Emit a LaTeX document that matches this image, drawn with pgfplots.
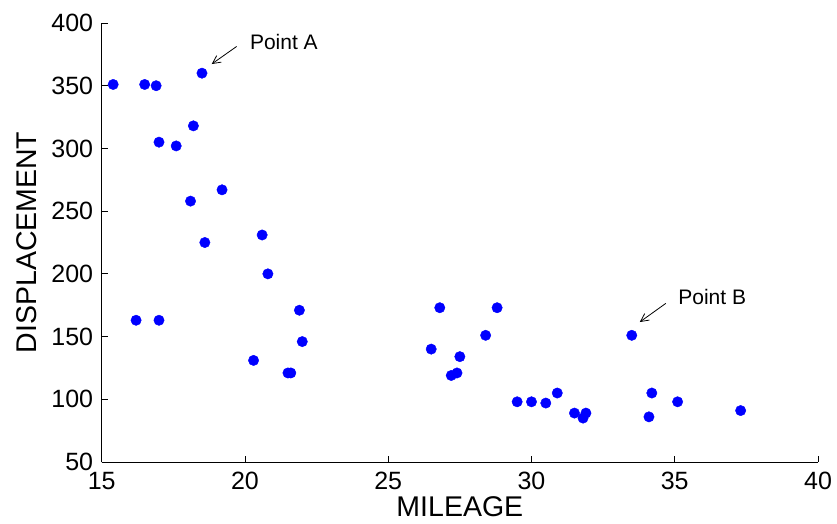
\documentclass[border=0pt]{standalone}
\usepackage{fontspec}
\setmainfont{Liberation Sans}
\usepackage{pgfplots}
\pgfplotsset{compat=1.18}
\usetikzlibrary{arrows.meta}
\begin{document}
\begin{tikzpicture}
\useasboundingbox (-101.7pt,-61pt) rectangle (735.3pt,462pt);
\begin{axis}[
  at={(0,0)}, anchor=south west,
  scale only axis, width=716.3pt, height=439pt,
  xmin=15, xmax=40, ymin=50, ymax=400,
  xtick={15,20,...,40}, ytick={50,100,...,400},
  axis x line*=bottom, axis y line*=left,
  tick align=inside, major tick length=6.5pt,
  axis line style={line width=0.9pt},
  tick style={line width=0.9pt, black},
  /pgf/number format/assume math mode=true,
  ticklabel style={font=\fontsize{25}{28}\selectfont, inner sep=0pt},
  xticklabel style={anchor=north, yshift=-10.3pt},
  yticklabel style={anchor=east, xshift=-8.4pt},
  xlabel={MILEAGE}, ylabel={DISPLACEMENT},
  label style={font=\fontsize{28.5}{32}\selectfont, inner sep=0pt},
  xlabel style={at={(axis description cs:0.5,-0.1230)}, anchor=base},
  ylabel style={at={(axis description cs:-0.0917,0.5)}, anchor=base},
  clip=false,
]
\addplot[only marks, mark=*, mark size=5.2pt, color=blue, mark options={fill=blue, draw=blue}] coordinates {
(15.4,351) (16.5,351) (16.9,350) (18.5,360) (18.2,318) (17.0,305) (17.6,302)
(19.2,267) (18.1,258) (18.6,225) (20.6,231) (20.8,200) (21.9,171) (22.0,146)
(16.2,163) (17.0,163) (20.3,131) (21.5,121) (21.6,121)
(26.8,173) (28.8,173) (28.4,151) (26.5,140) (27.5,134) (27.2,119) (27.4,121)
(33.5,151) (29.5,98) (30.0,98) (30.5,97) (30.9,105) (31.5,89) (31.9,89) (31.8,85)
(34.2,105) (34.1,86) (35.1,98) (37.3,91)
};
\draw[-{Straight Barb[length=8pt,width=8pt]}, line width=0.8pt] (axis cs:19.71,381.3) -- (axis cs:18.84,367.3);
\node[anchor=west, inner sep=0pt, font=\fontsize{21}{24}\selectfont] at (axis cs:20.17,385) {Point A};
\draw[-{Straight Barb[length=8pt,width=8pt]}, line width=0.8pt] (axis cs:34.69,176.5) -- (axis cs:33.78,161.6);
\node[anchor=west, inner sep=0pt, font=\fontsize{21}{24}\selectfont] at (axis cs:35.12,181.2) {Point B};
\end{axis}
\end{tikzpicture}
\end{document}
